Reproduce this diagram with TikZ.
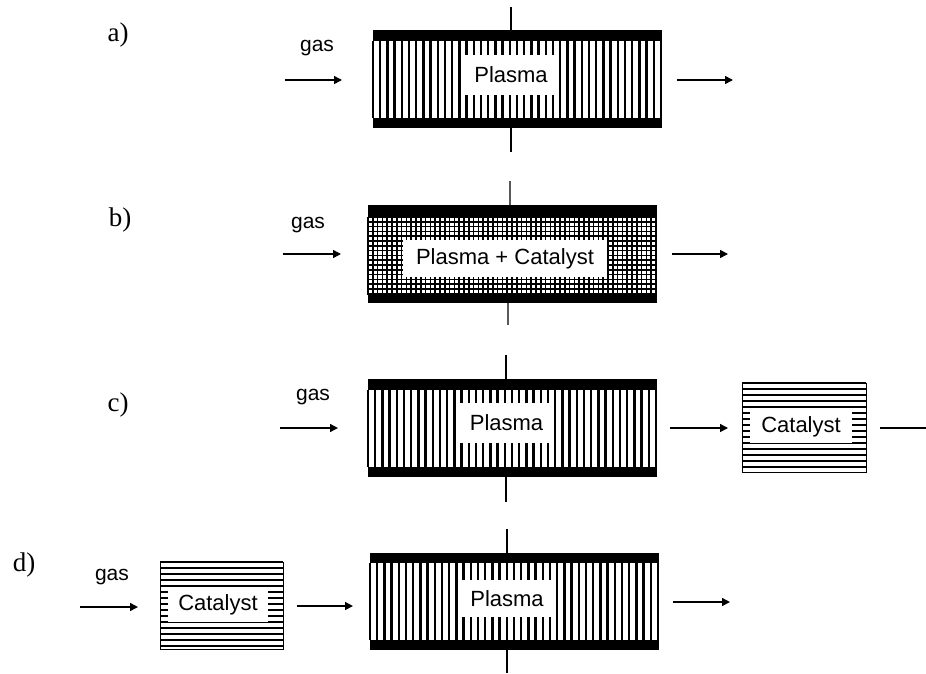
\documentclass[tikz,border=0pt]{standalone}
\usepackage{fontspec}
\setmainfont{Liberation Serif}
\setsansfont{Liberation Sans}
\usetikzlibrary{arrows.meta}

\tikzset{
  electrode/.style={fill=black},
  hatchline/.style={line width=2.4pt},
  gridline/.style={line width=1.6pt},
  catline/.style={line width=1.6pt},
  axisline/.style={line width=1.2pt},
  flow/.style={line width=1.5pt, -{Triangle[length=8pt,width=8pt]}},
  tag/.style={font=\fontsize{22}{24}\selectfont\sffamily, fill=white, inner sep=0pt},
  gaslabel/.style={font=\fontsize{21}{24}\selectfont\sffamily, inner sep=0pt},
  partlabel/.style={font=\fontsize{27}{30}\selectfont, inner sep=0pt}
}

\begin{document}
\begin{tikzpicture}[x=1pt, y=-1pt]
  \useasboundingbox (0,0) rectangle (926,673);

  % a) plasma only
  \node[partlabel] (partA) at (118,35) {a)};
  \draw[axisline] (511,7) -- (511,30) (511,128) -- (511,152);
  \fill[electrode] (373,30) rectangle (662,41);
  \fill[electrode] (373,118) rectangle (662,128);
  \foreach \k in {0,...,40}
    \draw[hatchline] ({373+7.2*\k},41) -- ({373+7.2*\k},118);
  \node[tag, minimum width=92pt, minimum height=40pt] (plasmaA) at (511,75) {Plasma};
  \node[gaslabel] (gasA) at (317,48) {gas};
  \coordinate (inA) at (285,80);
  \coordinate (entA) at (342,80);
  \coordinate (exA) at (677,80);
  \coordinate (outA) at (733,80);
  \draw[flow] (inA) -- (entA);
  \draw[flow] (exA) -- (outA);

  % b) plasma + catalyst in one stage
  \node[partlabel] (partB) at (120,220) {b)};
  \draw[axisline, black!65] (510,181) -- (510,205) (508,303) -- (508,325);
  \fill[electrode] (368,205) rectangle (657,217);
  \fill[electrode] (368,295) rectangle (657,303);
  \foreach \k in {0,...,60}
    \draw[gridline] ({368+4.8*\k},217) -- ({368+4.8*\k},295);
  \foreach \k in {0,...,16}
    \draw[gridline] (368,{217+4.8*\k}) -- (657,{217+4.8*\k});
  \node[tag, minimum width=204pt, minimum height=37pt] (plasmaB) at (505,258.5) {Plasma + Catalyst};
  \node[gaslabel] (gasB) at (308,225) {gas};
  \coordinate (inB) at (283,254);
  \coordinate (entB) at (341,254);
  \coordinate (exB) at (672,254);
  \coordinate (outB) at (728,254);
  \draw[flow] (inB) -- (entB);
  \draw[flow] (exB) -- (outB);

  % c) plasma, then catalyst
  \node[partlabel] (partC) at (118,405) {c)};
  \draw[axisline] (506,355) -- (506,379) (506,477) -- (506,502);
  \fill[electrode] (368,379) rectangle (657,390);
  \fill[electrode] (368,467) rectangle (657,477);
  \foreach \k in {0,...,40}
    \draw[hatchline] ({368+7.2*\k},390) -- ({368+7.2*\k},467);
  \node[tag, minimum width=93pt, minimum height=40pt] (plasmaC) at (506.5,423) {Plasma};
  \draw[line width=1pt] (742,383) rectangle (866,472);
  \foreach \k in {0,...,14}
    \draw[catline] (742,{383+6*\k}) -- (866,{383+6*\k});
  \node[tag, minimum width=102pt, minimum height=33pt] (catC) at (801,426.5) {Catalyst};
  \node[gaslabel] (gasC) at (313,397) {gas};
  \coordinate (inC) at (280,428);
  \coordinate (entC) at (338,428);
  \coordinate (exC) at (670,428);
  \coordinate (catinC) at (728,428);
  \coordinate (catexC) at (880,428);
  \coordinate (outC) at (926,428);
  \draw[flow] (inC) -- (entC);
  \draw[flow] (exC) -- (catinC);
  \draw[line width=1.5pt] (catexC) -- (outC);

  % d) catalyst, then plasma
  \node[partlabel] (partD) at (24,565) {d)};
  \draw[line width=1pt] (160,562) rectangle (283,649);
  \foreach \k in {0,...,14}
    \draw[catline] (160,{562+6*\k}) -- (283,{562+6*\k});
  \node[tag, minimum width=100pt, minimum height=35pt] (catD) at (218,604.5) {Catalyst};
  \draw[axisline] (507,529) -- (507,553) (507,650) -- (507,673);
  \fill[electrode] (370,553) rectangle (659,563);
  \fill[electrode] (370,640) rectangle (659,650);
  \foreach \k in {0,...,40}
    \draw[hatchline] ({370+7.2*\k},563) -- ({370+7.2*\k},640);
  \node[tag, minimum width=90pt, minimum height=37pt] (plasmaD) at (507,598.5) {Plasma};
  \node[gaslabel] (gasD) at (112,577) {gas};
  \coordinate (inD) at (80,607);
  \coordinate (catinD) at (138,607);
  \coordinate (catexD) at (297,606);
  \coordinate (entD) at (353,606);
  \coordinate (exD) at (673,602);
  \coordinate (outD) at (730,602);
  \draw[flow] (inD) -- (catinD);
  \draw[flow] (catexD) -- (entD);
  \draw[flow] (exD) -- (outD);
\end{tikzpicture}
\end{document}
